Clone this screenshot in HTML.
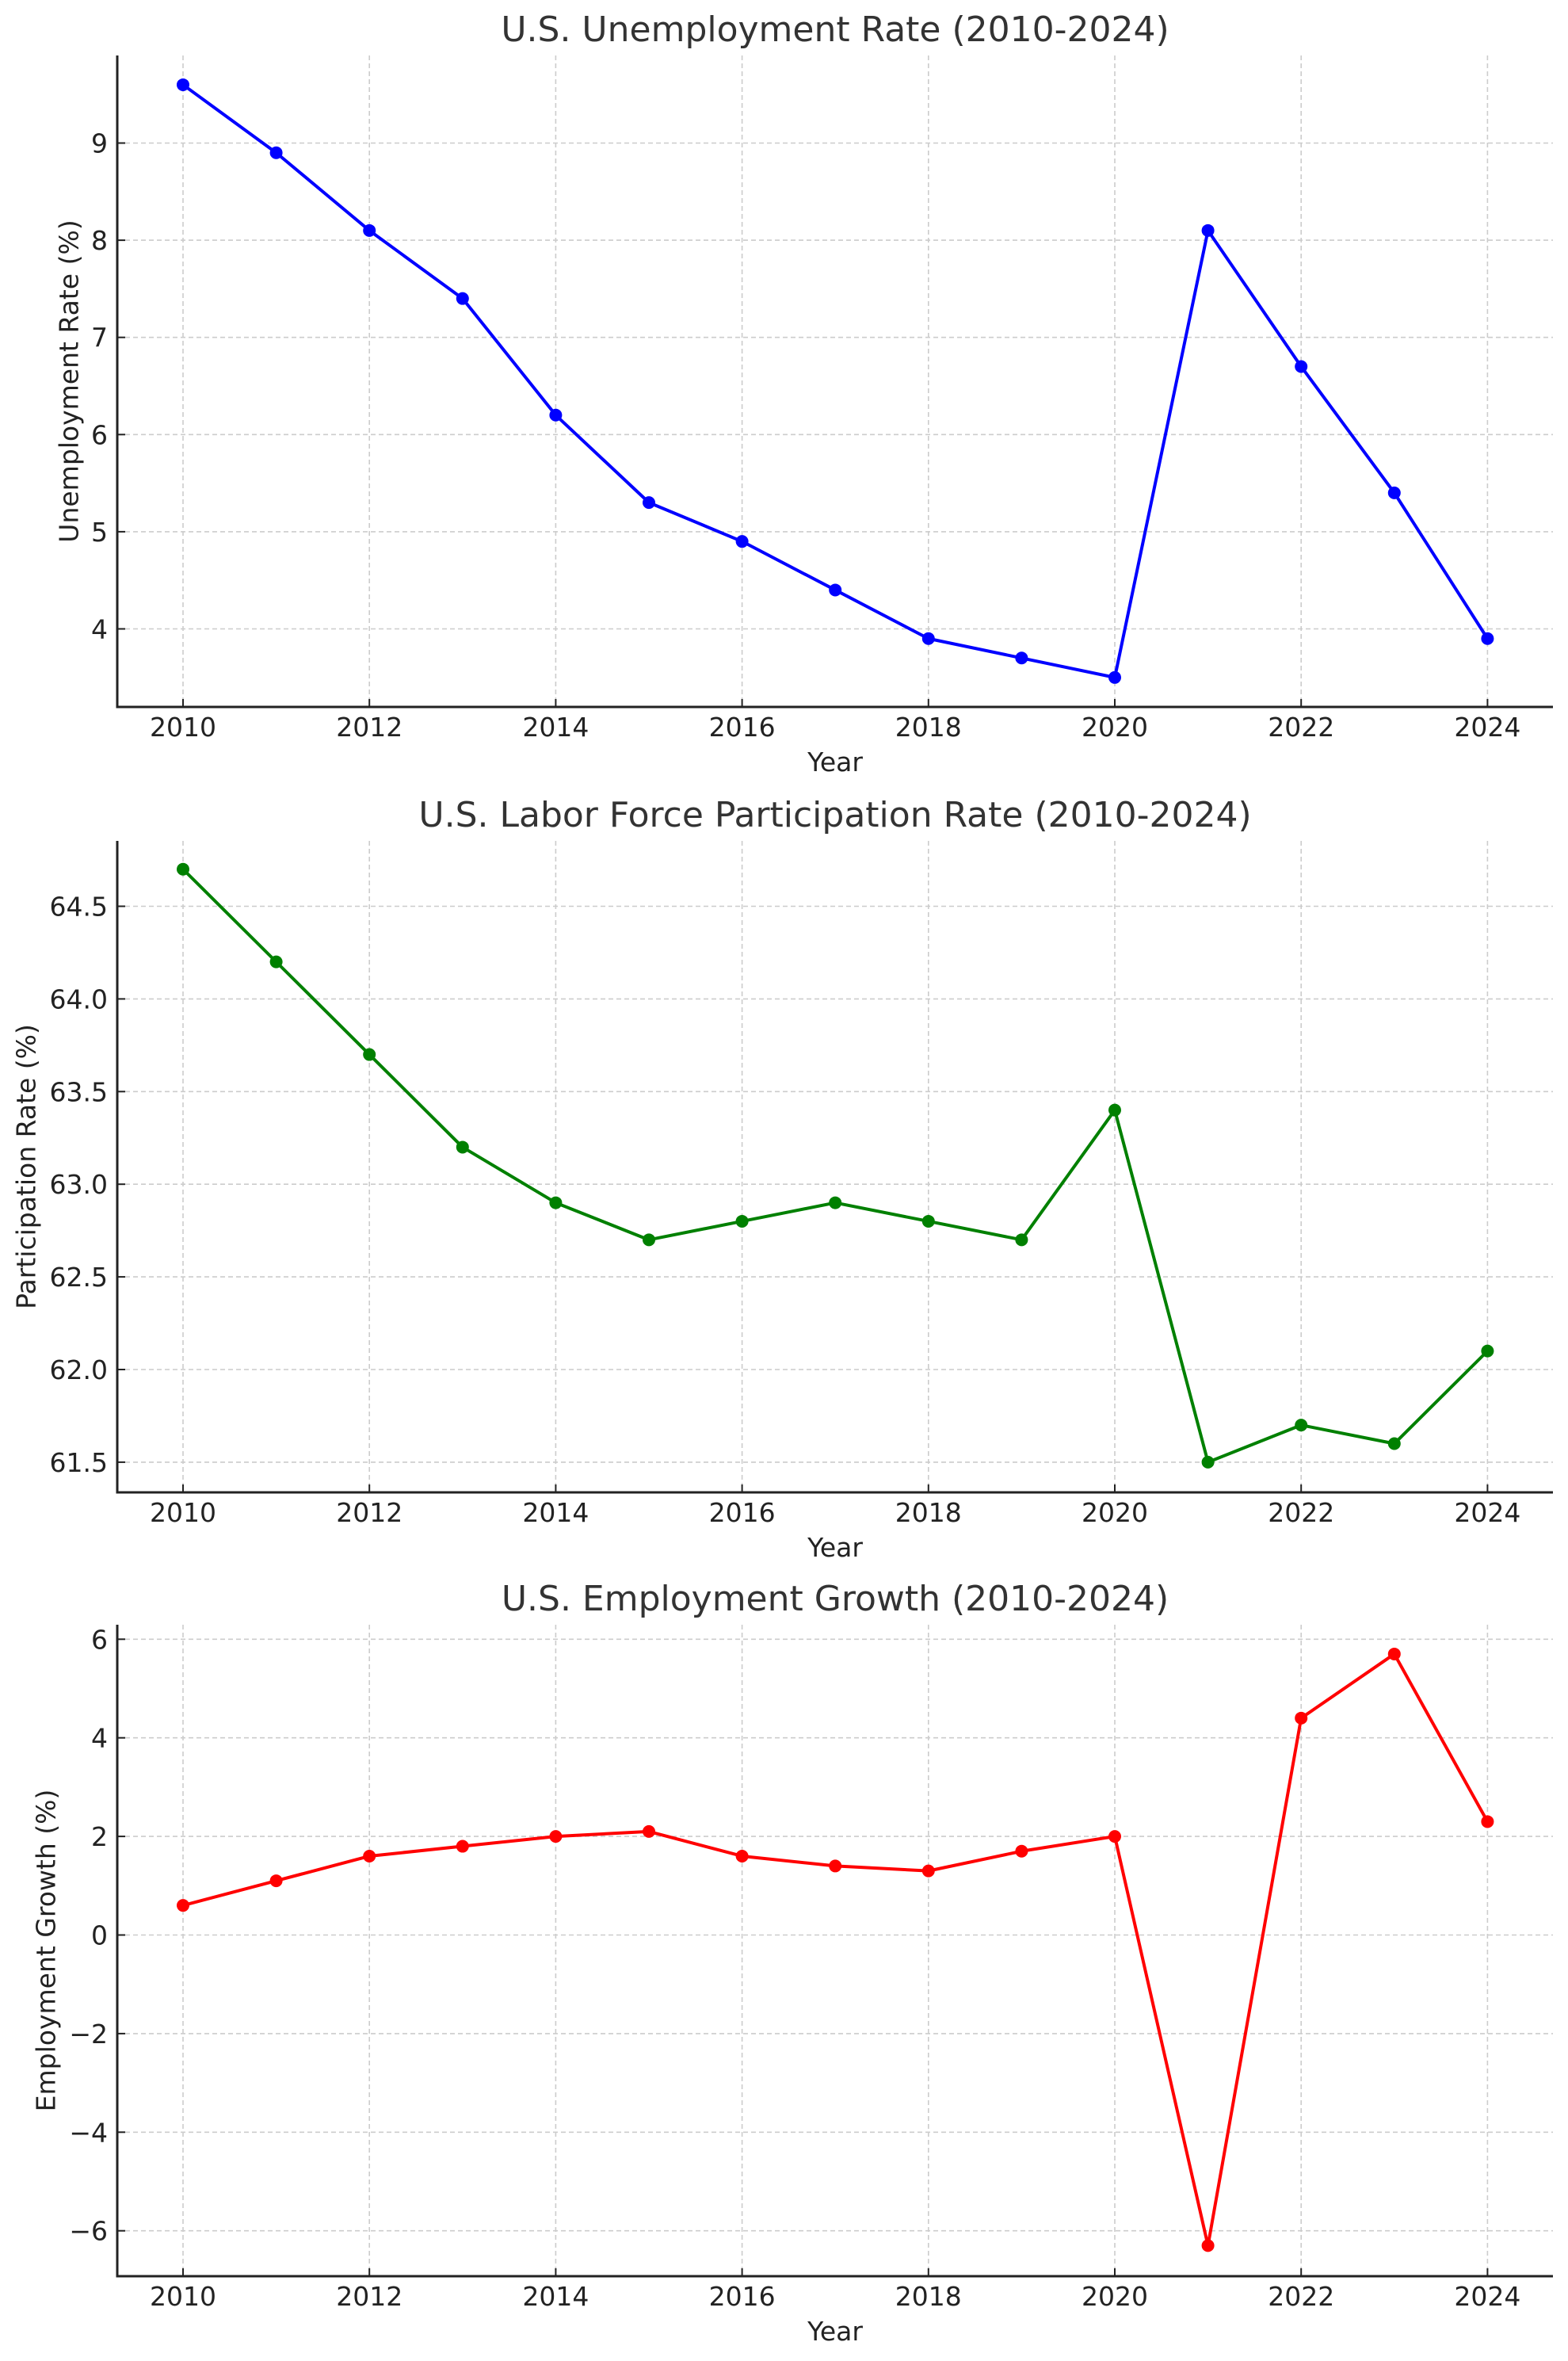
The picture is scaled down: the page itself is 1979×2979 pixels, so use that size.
<!DOCTYPE html>
<html><head><meta charset="utf-8"><style>
html,body{margin:0;padding:0;background:#fff;}
svg{display:block;font-family:"DejaVu Sans","Liberation Sans",sans-serif;}
</style></head><body>
<svg id="s" width="1979" height="2979" viewBox="0 0 1979 2979" xmlns="http://www.w3.org/2000/svg"></svg>
<script>
const S=document.getElementById('s');
const L=148,R=1960,X0=231,DX=117.6;
const years=[];for(let y=2010;y<=2024;y++)years.push(y);
const plots=[
 {top:70,bot:892,title:"U.S. Unemployment Rate (2010-2024)",yl:"Unemployment Rate (%)",ylx:87,
  v0:9,p0:180.5,pu:122.6,ticks:[4,5,6,7,8,9],fmt:t=>String(t),col:"#0000ff",
  d:[9.6,8.9,8.1,7.4,6.2,5.3,4.9,4.4,3.9,3.7,3.5,8.1,6.7,5.4,3.9]},
 {top:1061,bot:1883,title:"U.S. Labor Force Participation Rate (2010-2024)",yl:"Participation Rate (%)",ylx:33,
  v0:64.5,p0:1143.5,pu:233.8,ticks:[61.5,62,62.5,63,63.5,64,64.5],fmt:t=>t.toFixed(1),col:"#008000",
  d:[64.7,64.2,63.7,63.2,62.9,62.7,62.8,62.9,62.8,62.7,63.4,61.5,61.7,61.6,62.1]},
 {top:2050,bot:2872,title:"U.S. Employment Growth (2010-2024)",yl:"Employment Growth (%)",ylx:58,
  v0:6,p0:2068.3,pu:62.2,ticks:[-6,-4,-2,0,2,4,6],fmt:t=>t<0?"\u2212"+(-t):String(t),col:"#ff0000",
  d:[0.6,1.1,1.6,1.8,2.0,2.1,1.6,1.4,1.3,1.7,2.0,-6.3,4.4,5.7,2.3]}
];
let h="";
for(const p of plots){
 const Y=v=>p.p0+(p.v0-v)*p.pu;
 // grid
 for(const t of p.ticks){const y=Y(t);
  h+=`<line x1="${L}" x2="${R}" y1="${y}" y2="${y}" stroke="#cccccc" stroke-width="1.6" stroke-dasharray="6,4"/>`;
  h+=`<line x1="${L}" x2="${L+10}" y1="${y}" y2="${y}" stroke="#222" stroke-width="2"/>`;
  h+=`<text x="136" y="${y+12}" font-size="33" text-anchor="end" fill="#222">${p.fmt(t)}</text>`;}
 for(let yr=2010;yr<=2024;yr+=2){const x=X0+(yr-2010)*DX;
  h+=`<line x1="${x}" x2="${x}" y1="${p.top}" y2="${p.bot}" stroke="#cccccc" stroke-width="1.6" stroke-dasharray="6,4"/>`;
  h+=`<line x1="${x}" x2="${x}" y1="${p.bot-10}" y2="${p.bot}" stroke="#222" stroke-width="2"/>`;
  h+=`<text x="${x}" y="${p.bot+37}" font-size="33" text-anchor="middle" fill="#222">${yr}</text>`;}
 // spines
 h+=`<line x1="${L}" x2="${L}" y1="${p.top}" y2="${p.bot+1.5}" stroke="#222" stroke-width="3"/>`;
 h+=`<line x1="${L-1.5}" x2="${R}" y1="${p.bot}" y2="${p.bot}" stroke="#222" stroke-width="3"/>`;
 // series
 const pts=p.d.map((v,i)=>[X0+i*DX,Y(v)]);
 h+=`<polyline points="${pts.map(a=>a.join(',')).join(' ')}" fill="none" stroke="${p.col}" stroke-width="4" stroke-linejoin="round"/>`;
 for(const a of pts)h+=`<circle cx="${a[0]}" cy="${a[1]}" r="8" fill="${p.col}"/>`;
 // labels
 h+=`<text x="${(L+R)/2}" y="${p.top-18}" font-size="44" text-anchor="middle" fill="#333">${p.title}</text>`;
 h+=`<text x="${(L+R)/2}" y="${p.bot+81}" font-size="33" text-anchor="middle" fill="#222">Year</text>`;
 const cy=(p.top+p.bot)/2;
 h+=`<text x="${p.ylx}" y="${cy}" font-size="33" text-anchor="middle" dominant-baseline="central" fill="#222" transform="rotate(-90 ${p.ylx} ${cy})">${p.yl}</text>`;
}
S.innerHTML=h;
</script>
</body></html>
